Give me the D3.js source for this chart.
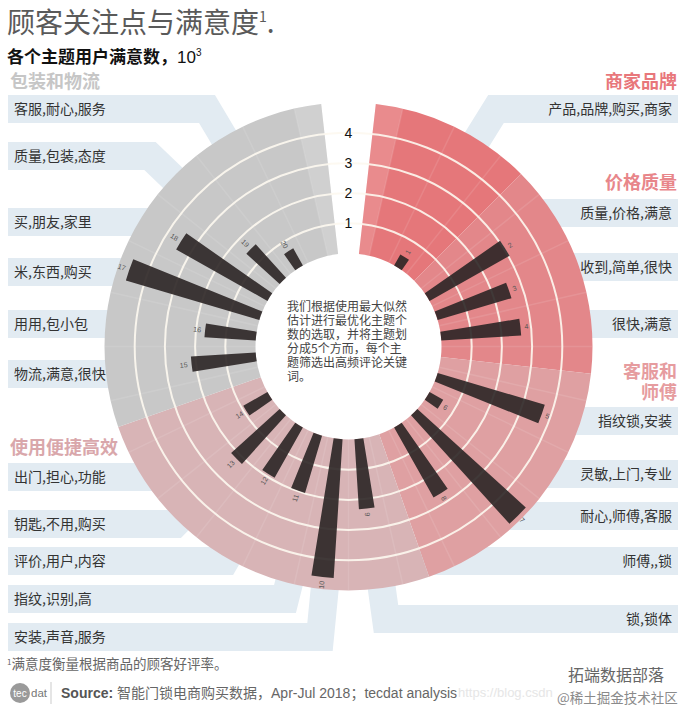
<!DOCTYPE html>
<html>
<head>
<meta charset="utf-8">
<script src="https://cdn.jsdelivr.net/npm/d3@7"></script>
<style>
  body { margin: 0; background: #fff; }
  text { font-family: "Liberation Sans", "Noto Sans CJK SC", sans-serif; }
  .cjk { font-family: "Noto Sans CJK SC", sans-serif; }
</style>
</head>
<body>
<div class="canvas"></div>
<script>
// topics (groups) and their bars
const topics = ['商家品牌', '价格质量', '客服和师傅', '使用便捷高效', '包装和物流'];
const barTopic = [0, 1, 1, 1, 2, 2, 2, 2, 3, 3, 3, 3, 3, 3, 4, 4, 4, 4, 4, 4];
const barNames = ['1', '2', '3', '4', '5', '6', '7', '8', '9', '10',
                  '11', '12', '13', '14', '15', '16', '17', '18', '19', '20'];
// satisfaction count, 10^3
const satisfaction = [0.42, 3.04, 2.55, 2.65, 3.7, 0.52, 4.85, 2.66, 2.32, 4.6,
                      1.98, 1.91, 2.17, 0.92, 2.15, 1.7, 4.61, 3.47, 1.49, 0.65];
const keywords = ['产品,品牌,购买,商家', '质量,价格,满意', '收到,简单,很快', '很快,满意',
                  '指纹锁,安装', '灵敏,上门,专业', '耐心,师傅,客服', '师傅,,锁', '锁,锁体',
                  '安装,声音,服务', '指纹,识别,高', '评价,用户,内容', '钥匙,不用,购买', '出门,担心,功能',
                  '物流,满意,很快', '用用,包小包', '米,东西,购买', '买,朋友,家里', '质量,包装,态度', '客服,耐心,服务'];
const ringTicks = [1, 2, 3, 4];
const centerNote = ['我们根据使用最大似然', '估计进行最优化主题个', '数的选取，并将主题划',
                    '分成5个方而，每个主', '题筛选出高频评论关键', '词。'];

// layout only
const topicColor = ['#e5777a', '#e3878a', '#dfa0a2', '#d8b4b6', '#c8c8c8'];
const headColor = ['#e8777b', '#e8868a', '#e69c9f', '#d9a7ab', '#c6c6c6'];
const calloutTop = [95, 199, 253, 310, 407, 460, 502, 547, 605,
                    623, 585, 547, 510, 463, 360, 310, 258, 208, 142, 95];
const calloutEnd = [496, null, null, null, null, null, null, null, 386,
                    320, 285, 225, 175, null, null, null, null, null, 150, 207];

const width = 692, height = 709;
const C = {x: 348.5, y: 346.5};
const R = 244;

const svg = d3.select('.canvas')
  .append('svg')
    .attr('width', width)
    .attr('height', height);

const r = d3.scaleLinear().domain([0, 5]).range([93, R]);
// 28 angular slots around the circle
const slot = d3.scaleLinear().domain([0, 28]).range([0, 2 * Math.PI]);
const barSlot = barTopic.map((g, i) => 2 + i + g);
const barAngle = barSlot.map(s => slot(s + 0.5));
const barHalf = slot(1) * 0.43 / 2;

// topic wedge bounds in slot units
const topicBounds = topics.map((t, g) => {
  const idx = barSlot.filter((s, i) => barTopic[i] === g);
  const start = g === 0 ? idx[0] - 1.5 : idx[0] - 0.5;
  const end = g === topics.length - 1 ? d3.max(idx) + 2.5 : null;
  return {g, start, end};
});
topicBounds.forEach((b, i) => {
  if (b.end === null) b.end = topicBounds[i + 1].start;
});

// ---- callout boxes (drawn first, ring covers their ends)
function calloutPoints(top, xEnd, side) {
  const h = 28, y0 = top, y1 = top + h, yc = top + h / 2;
  const xo = side > 0 ? 678 : 8;
  if (xEnd == null) {
    const rr = R - 22, dy = yc - C.y;
    const xi = C.x + side * Math.sqrt(Math.max(0, rr * rr - dy * dy));
    return [[xo, y0], [xi, y0], [xi, y1], [xo, y1]];
  }
  const M = [xEnd, yc];
  const len = Math.hypot(C.x - M[0], C.y - M[1]);
  const d = [(C.x - M[0]) / len, (C.y - M[1]) / len];
  const n = [-d[1], d[0]];
  const E1 = [M[0] + n[0] * h / 2, M[1] + n[1] * h / 2];
  const E2 = [M[0] - n[0] * h / 2, M[1] - n[1] * h / 2];
  const xAt = (E, y) => E[0] + (y - E[1]) * d[0] / d[1];
  const f = x => side * x;
  let Eu, El;
  if (d[1] > 0) {
    Eu = f(xAt(E1, y0)) < f(xAt(E2, y0)) ? E1 : E2;
    El = Eu === E1 ? E2 : E1;
  } else {
    El = f(xAt(E1, y1)) < f(xAt(E2, y1)) ? E1 : E2;
    Eu = El === E1 ? E2 : E1;
  }
  const L = len - (R - 25);
  return [[xo, y0], [xAt(Eu, y0), y0],
          [Eu[0] + d[0] * L, Eu[1] + d[1] * L],
          [El[0] + d[0] * L, El[1] + d[1] * L],
          [xAt(El, y1), y1], [xo, y1]];
}

const bars = barNames.map((name, i) => ({
  name, value: satisfaction[i], topic: barTopic[i], angle: barAngle[i],
  word: keywords[i], side: i < 9 ? 1 : -1, top: calloutTop[i], end: calloutEnd[i]
}));

svg.append('g').selectAll('polygon')
  .data(bars)
  .enter().append('polygon')
    .attr('points', d => calloutPoints(d.top, d.end, d.side).join(' '))
    .attr('fill', '#e2ebf2');

svg.append('g').selectAll('text')
  .data(bars)
  .enter().append('text')
    .attr('class', 'cjk')
    .attr('x', d => d.side > 0 ? 672 : 14)
    .attr('y', d => d.top + 14)
    .attr('dy', '0.36em')
    .attr('text-anchor', d => d.side > 0 ? 'end' : 'start')
    .attr('font-size', 14)
    .attr('fill', '#333')
    .text(d => d.word);

// ---- ring
const ring = svg.append('g').attr('transform', `translate(${C.x}, ${C.y})`);

const wedge = d3.arc().innerRadius(r(0)).outerRadius(R);

ring.selectAll('path.topic')
  .data(topicBounds)
  .enter().append('path')
    .attr('class', 'topic')
    .attr('d', d => wedge({startAngle: slot(d.start), endAngle: slot(d.end)}))
    .attr('fill', d => topicColor[d.g]);

// lighter half slots at both sides of the gap
ring.selectAll('path.edge')
  .data([[0.5, 1], [27, 27.5]])
  .enter().append('path')
    .attr('class', 'edge')
    .attr('d', d => wedge({startAngle: slot(d[0]), endAngle: slot(d[1])}))
    .attr('fill', '#fff')
    .attr('opacity', 0.15);

// faint slot separators
ring.selectAll('line.sep')
  .data(d3.range(1, 28))
  .enter().append('line')
    .attr('class', 'sep')
    .attr('x1', d => r(0) * Math.sin(slot(d)))
    .attr('y1', d => -r(0) * Math.cos(slot(d)))
    .attr('x2', d => R * Math.sin(slot(d)))
    .attr('y2', d => -R * Math.cos(slot(d)))
    .attr('stroke', '#fff')
    .attr('stroke-width', 1.5)
    .attr('opacity', 0.1);

// grid circles
ring.selectAll('circle.grid')
  .data(ringTicks)
  .enter().append('circle')
    .attr('class', 'grid')
    .attr('r', d => r(d))
    .attr('fill', 'none')
    .attr('stroke', '#fdf8f0')
    .attr('stroke-width', 2)
    .attr('opacity', 0.9);

ring.selectAll('text.tick')
  .data(ringTicks)
  .enter().append('text')
    .attr('class', 'tick')
    .attr('x', 0)
    .attr('y', d => -r(d))
    .attr('dy', '0.36em')
    .attr('text-anchor', 'middle')
    .attr('font-size', 14)
    .attr('fill', '#111')
    .text(d => d);

// bars
const barArc = d3.arc()
  .innerRadius(r(0))
  .outerRadius(d => r(d.value))
  .startAngle(d => d.angle - barHalf)
  .endAngle(d => d.angle + barHalf);

ring.selectAll('path.bar')
  .data(bars)
  .enter().append('path')
    .attr('class', 'bar')
    .attr('d', barArc)
    .attr('fill', '#2b2525')
    .attr('opacity', 0.9);

ring.selectAll('text.num')
  .data(bars)
  .enter().append('text')
    .attr('class', 'num')
    .attr('transform', d => {
      const rr = r(d.value) + 4;
      const deg = d.angle * 180 / Math.PI;
      const rot = deg < 180 ? deg - 90 : deg + 90;
      return `translate(${rr * Math.sin(d.angle)}, ${-rr * Math.cos(d.angle)}) rotate(${rot})`;
    })
    .attr('dy', '0.35em')
    .attr('text-anchor', d => d.angle < Math.PI ? 'start' : 'end')
    .attr('font-size', 7)
    .attr('fill', '#555')
    .text(d => d.name);

// center note, one text block
svg.append('text')
    .attr('class', 'cjk')
    .attr('y', 306.7)
    .attr('font-size', 12)
    .attr('fill', '#444')
  .selectAll('tspan')
  .data(centerNote)
  .enter().append('tspan')
    .attr('x', 287)
    .attr('dy', (d, i) => i === 0 ? '0.36em' : 14)
    .text(d => d);

// ---- topic headers
const headers = [
  {t: 0, lines: ['商家品牌'], x: 677, y: 82, anchor: 'end'},
  {t: 1, lines: ['价格质量'], x: 677, y: 183, anchor: 'end'},
  {t: 2, lines: ['客服和', '师傅'], x: 677, y: 372, anchor: 'end'},
  {t: 3, lines: ['使用便捷高效'], x: 10, y: 448, anchor: 'start'},
  {t: 4, lines: ['包装和物流'], x: 10, y: 82, anchor: 'start'}
];
headers.forEach(h => {
  svg.append('text')
      .attr('class', 'cjk')
      .attr('y', h.y)
      .attr('text-anchor', h.anchor)
      .attr('font-size', 18)
      .attr('font-weight', 'bold')
      .attr('fill', headColor[h.t])
    .selectAll('tspan')
    .data(h.lines)
    .enter().append('tspan')
      .attr('x', h.x)
      .attr('dy', (d, i) => i === 0 ? '0.36em' : 21)
      .text(d => d);
});

// ---- titles
const title = svg.append('text')
  .attr('class', 'cjk')
  .attr('x', 7)
  .attr('y', 33)
  .attr('font-size', 28)
  .attr('fill', '#5a5a5a');
title.append('tspan').text('顾客关注点与满意度');
title.append('tspan').attr('font-size', 14).attr('dy', -11).text('1');
title.append('tspan').attr('font-size', 28).attr('dy', 11).text('.');

const sub = svg.append('text')
  .attr('x', 7)
  .attr('y', 63)
  .attr('font-size', 17)
  .attr('fill', '#111');
sub.append('tspan').attr('class', 'cjk').attr('font-weight', 'bold').text('各个主题用户满意数，');
sub.append('tspan').text('10');
sub.append('tspan').attr('font-size', 10).attr('dy', -7).text('3');

// ---- footnote and source
const foot = svg.append('text')
  .attr('class', 'cjk')
  .attr('x', 7)
  .attr('y', 669)
  .attr('font-size', 13.5)
  .attr('fill', '#666');
foot.append('tspan').attr('font-size', 8).attr('dy', -4).text('1');
foot.append('tspan').attr('dy', 4).text('满意度衡量根据商品的顾客好评率。');

svg.append('circle').attr('cx', 20).attr('cy', 693).attr('r', 10).attr('fill', '#9a9a9a');
svg.append('text').attr('x', 20).attr('y', 696.5).attr('text-anchor', 'middle')
  .attr('font-size', 10).attr('fill', '#fff').text('tec');
svg.append('text').attr('x', 31).attr('y', 697).attr('font-size', 11.5)
  .attr('fill', '#777').text('dat');
svg.append('line').attr('x1', 51).attr('x2', 51).attr('y1', 682).attr('y2', 704)
  .attr('stroke', '#ddd').attr('stroke-width', 1.5);

const src = svg.append('text')
  .attr('x', 61)
  .attr('y', 698)
  .attr('font-size', 14)
  .attr('fill', '#666');
src.append('tspan').attr('font-weight', 'bold').attr('fill', '#555').text('Source: ');
src.append('tspan').attr('class', 'cjk').text('智能门锁电商购买数据，');
src.append('tspan').text('Apr-Jul 2018；tecdat analysis');

// watermarks
svg.append('text').attr('x', 458).attr('y', 697).attr('font-size', 13)
  .attr('fill', '#e6e6e6').text('https://blog.csdn');
svg.append('text').attr('class', 'cjk').attr('x', 568).attr('y', 681)
  .attr('font-size', 16).attr('fill', '#666').text('拓端数据部落');
svg.append('text').attr('class', 'cjk').attr('x', 557).attr('y', 703)
  .attr('font-size', 13.5).attr('fill', '#8a8a8a').text('@稀土掘金技术社区');
</script>
</body>
</html>
